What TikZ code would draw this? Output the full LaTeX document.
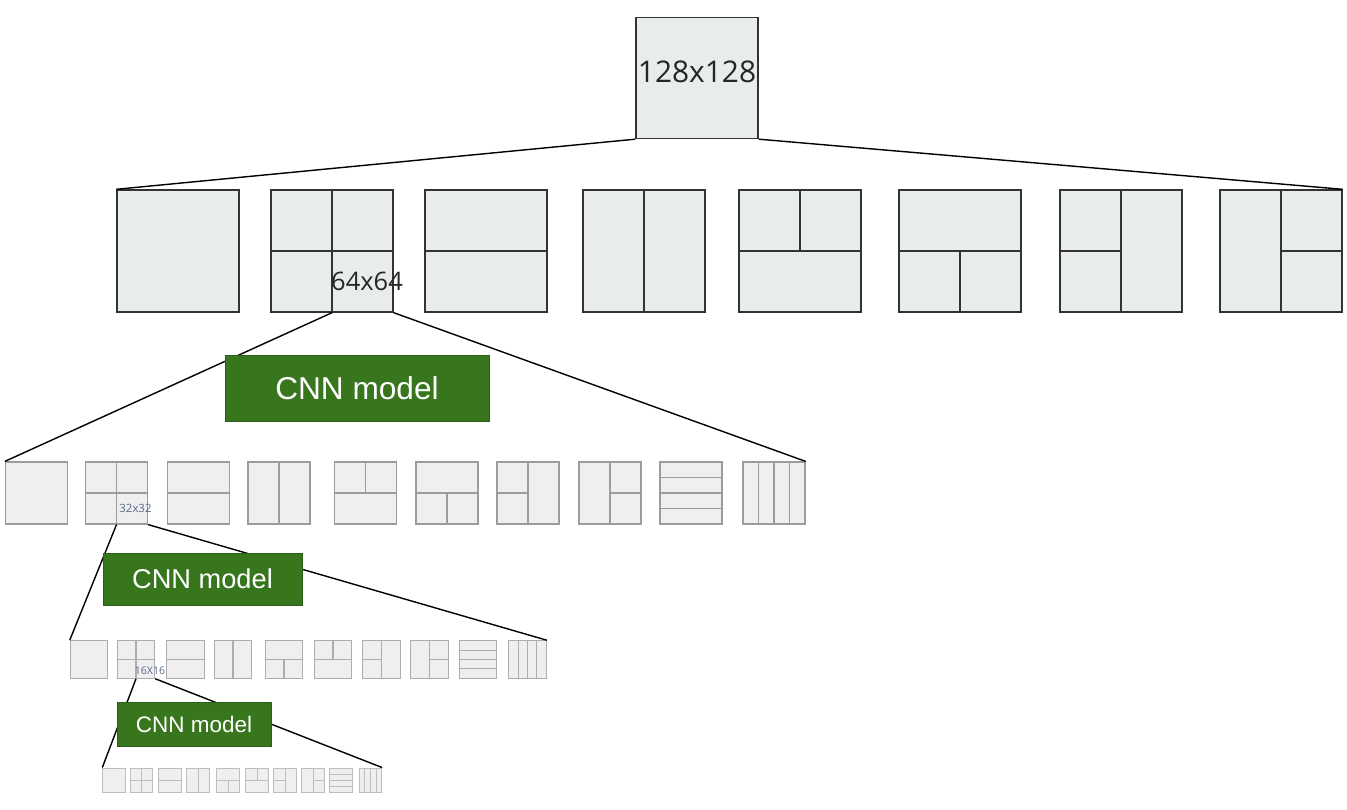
\documentclass[tikz,border=0pt]{standalone}
\usepackage{fontspec}
\setmainfont{Liberation Sans}
\newfontfamily\sizefont{Open Sans}
\usetikzlibrary{calc}

\definecolor{fillone}{HTML}{E8ECEC}
\definecolor{lineone}{HTML}{333333}
\definecolor{filltwo}{HTML}{EFEFEF}
\definecolor{linetwo}{HTML}{9C9C9C}
\definecolor{linethree}{HTML}{ADADAD}
\definecolor{linefour}{HTML}{BEBEBE}
\definecolor{smalllabel}{HTML}{5A6A8C}
\definecolor{cnngreen}{HTML}{38761D}

\tikzset{
  % partition patterns drawn inside a cell
  plain/.style={},
  quad/.style={path picture={\draw[#1] (path picture bounding box.north) -- (path picture bounding box.south)
      (path picture bounding box.west) -- (path picture bounding box.east);}},
  hsplit/.style={path picture={\draw[#1] (path picture bounding box.west) -- (path picture bounding box.east);}},
  vsplit/.style={path picture={\draw[#1] (path picture bounding box.north) -- (path picture bounding box.south);}},
  topsplit/.style={path picture={\draw[#1] (path picture bounding box.west) -- (path picture bounding box.east)
      (path picture bounding box.north) -- (path picture bounding box.center);}},
  botsplit/.style={path picture={\draw[#1] (path picture bounding box.west) -- (path picture bounding box.east)
      (path picture bounding box.center) -- (path picture bounding box.south);}},
  leftsplit/.style={path picture={\draw[#1] (path picture bounding box.north) -- (path picture bounding box.south)
      (path picture bounding box.west) -- (path picture bounding box.center);}},
  rightsplit/.style={path picture={\draw[#1] (path picture bounding box.north) -- (path picture bounding box.south)
      (path picture bounding box.center) -- (path picture bounding box.east);}},
  hstripes/.style={path picture={\foreach \t in {0.25,0.5,0.75}
      \draw[#1] ($(path picture bounding box.north west)!\t!(path picture bounding box.south west)$)
        -- ($(path picture bounding box.north east)!\t!(path picture bounding box.south east)$);}},
  vstripes/.style={path picture={\foreach \t in {0.25,0.5,0.75}
      \draw[#1] ($(path picture bounding box.north west)!\t!(path picture bounding box.north east)$)
        -- ($(path picture bounding box.south west)!\t!(path picture bounding box.south east)$);}},
  % line looks of each level
  cutone/.style={draw=lineone, line width=0.8pt},
  cuttwo/.style={draw=linetwo, line width=0.7pt},
  cutthree/.style={draw=linethree, line width=0.6pt},
  cutfour/.style={draw=linefour, line width=0.5pt},
  cellone/.style={cutone, fill=fillone, inner sep=0, minimum width=2.44cm, minimum height=2.44cm},
  celltwo/.style={cuttwo, fill=filltwo, inner sep=0, minimum width=1.24cm, minimum height=1.24cm},
  cellthree/.style={cutthree, fill=filltwo, inner sep=0, minimum width=0.75cm, minimum height=0.75cm},
  cellfour/.style={cutfour, fill=filltwo, inner sep=0, minimum width=0.45cm, minimum height=0.48cm},
  link/.style={draw=black, line width=0.8pt},
  cnn/.style={fill=cnngreen, draw=cnngreen!80!black, line width=0.4pt, text=white, inner sep=0},
  sizelabel/.style={inner sep=0, font=\sizefont}
}

\begin{document}
\begin{tikzpicture}[x=0.02cm, y=-0.02cm]
  \useasboundingbox (0,0) rectangle (1347,810);

  % top level block
  \node[cellone, minimum height=2.42cm] (top) at (697,78) {};
  \node[sizelabel, text=black!85, font=\sizefont\fontsize{17}{17}\selectfont] (lab128) at (697,72) {128x128};

  % first level partitions
  \foreach \k/\x [count=\i] in {plain/178,quad/332,hsplit/486,vsplit/644,topsplit/800,botsplit/960,leftsplit/1121,rightsplit/1281}
    \node[cellone, \k=cutone] (r1b\i) at (\x,251) {};

  % second level partitions
  \foreach \k/\x [count=\i] in {plain/36.5,quad/116.5,hsplit/198.5,vsplit/279,topsplit/365.5,botsplit/447,leftsplit/528,rightsplit/610,hstripes/691,vstripes/774}
    \node[celltwo, \k=cuttwo] (r2b\i) at (\x,493) {};

  % third level partitions
  \foreach \k/\x [count=\i] in {plain/89,quad/136,hsplit/185.5,vsplit/233,botsplit/284,topsplit/333,leftsplit/381.5,rightsplit/429.5,hstripes/478,vstripes/527.5}
    \node[cellthree, \k=cutthree] (r3b\i) at (\x,659.5) {};

  % fourth level partitions
  \foreach \k/\x [count=\i] in {plain/114,quad/141.5,hsplit/170,vsplit/198,botsplit/228,topsplit/257,leftsplit/285,rightsplit/313,hstripes/341,vstripes/370.5}
    \node[cellfour, \k=cutfour] (r4b\i) at (\x,780) {};

  % block size labels
  \node[sizelabel, text=black!85, font=\sizefont\fontsize{14.5}{14.5}\selectfont] (lab64) at (367,281) {64x64};
  \node[sizelabel, text=smalllabel, font=\sizefont\fontsize{6.5}{6.5}\selectfont] (lab32) at (135.5,508) {32x32};
  \node[sizelabel, text=smalllabel, font=\sizefont\fontsize{6}{6}\selectfont] (lab16) at (150,671) {16X16};

  % expansion lines
  \draw[link] (top.south west) -- (r1b1.north west);
  \draw[link] (top.south east) -- (r1b8.north east);
  \draw[link] (r1b2.south) -- (r2b1.north west);
  \draw[link] (r1b2.south east) -- (r2b10.north east);
  \draw[link] (r2b2.south) -- (r3b1.north west);
  \draw[link] (r2b2.south east) -- (r3b10.north east);
  \draw[link] (r3b2.south) -- (r4b1.north west);
  \draw[link] (r3b2.south east) -- (r4b10.north east);

  % classifiers
  \node[cnn, minimum width=5.28cm, minimum height=1.32cm, font=\fontsize{18}{18}\selectfont] (cnnA) at (357,388) {CNN model};
  \node[cnn, minimum width=3.98cm, minimum height=1.04cm, font=\fontsize{15.5}{15.5}\selectfont] (cnnB) at (202.5,579) {CNN model};
  \node[cnn, minimum width=3.08cm, minimum height=0.88cm, font=\fontsize{12.8}{12.8}\selectfont] (cnnC) at (194,724) {CNN model};
\end{tikzpicture}
\end{document}
